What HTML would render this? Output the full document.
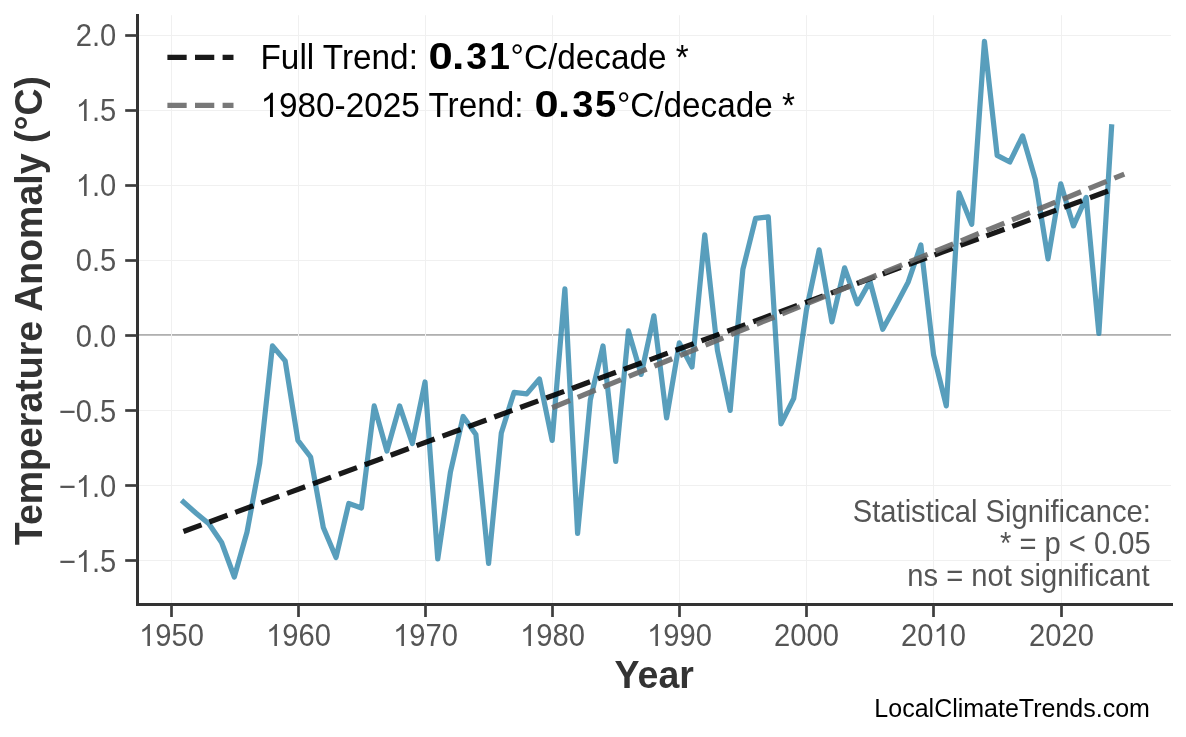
<!DOCTYPE html>
<html><head><meta charset="utf-8"><style>
html,body{margin:0;padding:0;background:#fff;}
svg{display:block;}
text{font-family:"Liberation Sans",sans-serif;}
svg{will-change:transform;}
</style></head><body>
<svg width="1186" height="737" viewBox="0 0 1186 737">
<rect width="1186" height="737" fill="#fff"/>
<g stroke="#f0f0f0" stroke-width="1"><line x1="137.5" y1="560.50" x2="1171.0" y2="560.50"/><line x1="137.5" y1="485.50" x2="1171.0" y2="485.50"/><line x1="137.5" y1="410.50" x2="1171.0" y2="410.50"/><line x1="137.5" y1="335.50" x2="1171.0" y2="335.50"/><line x1="137.5" y1="260.50" x2="1171.0" y2="260.50"/><line x1="137.5" y1="185.50" x2="1171.0" y2="185.50"/><line x1="137.5" y1="110.50" x2="1171.0" y2="110.50"/><line x1="137.5" y1="35.50" x2="1171.0" y2="35.50"/></g>
<line x1="137.5" y1="334.8" x2="1171.0" y2="334.8" stroke="#b0b0b0" stroke-width="1.8"/>
<g stroke="#f0f0f0" stroke-width="1"><line x1="171.50" y1="15.2" x2="171.50" y2="604.5"/><line x1="298.50" y1="15.2" x2="298.50" y2="604.5"/><line x1="425.50" y1="15.2" x2="425.50" y2="604.5"/><line x1="552.50" y1="15.2" x2="552.50" y2="604.5"/><line x1="679.50" y1="15.2" x2="679.50" y2="604.5"/><line x1="806.50" y1="15.2" x2="806.50" y2="604.5"/><line x1="933.50" y1="15.2" x2="933.50" y2="604.5"/><line x1="1061.50" y1="15.2" x2="1061.50" y2="604.5"/></g>
<polyline points="183.46,501.99 196.18,513.24 208.89,523.75 221.61,542.50 234.32,577.02 247.03,532.00 259.75,462.97 272.46,345.92 285.18,360.93 297.89,440.46 310.60,456.97 323.32,527.50 336.03,557.51 348.75,503.49 361.46,507.99 374.17,405.95 386.89,450.97 399.60,405.95 412.32,443.46 425.03,381.94 437.74,559.01 450.46,471.97 463.17,416.45 475.89,434.46 488.60,563.51 501.31,432.96 514.03,392.44 526.74,393.94 539.46,378.94 552.17,440.46 564.88,288.90 577.60,533.50 590.31,399.95 603.03,345.92 615.74,461.47 628.45,330.92 641.17,374.44 653.88,315.91 666.60,417.95 679.31,342.92 692.02,366.93 704.74,234.88 717.45,350.43 730.17,410.45 742.88,269.39 755.59,218.37 768.31,216.87 781.02,423.96 793.74,398.45 806.45,309.91 819.16,249.89 831.88,321.91 844.59,267.89 857.31,303.91 870.02,281.40 882.73,329.27 895.45,306.16 908.16,282.15 920.88,244.93 933.59,354.93 946.30,405.95 959.02,192.86 971.73,224.38 984.45,41.30 997.16,155.35 1009.87,161.95 1022.59,135.84 1035.30,179.36 1048.02,258.89 1060.73,183.86 1073.44,225.88 1086.16,197.36 1098.87,333.47 1111.59,126.84" fill="none" stroke="#2e86ab" stroke-opacity="0.8" stroke-width="5.2" stroke-linejoin="round" stroke-linecap="square"/>
<line x1="183.46" y1="531.50" x2="1111.59" y2="189.76" stroke="#000" stroke-opacity="0.9" stroke-width="5.2" stroke-dasharray="19.27 8.33"/>
<line x1="552.17" y1="407.75" x2="1124.30" y2="174.11" stroke="#696969" stroke-opacity="0.9" stroke-width="5.2" stroke-dasharray="19.27 8.33"/>
<g stroke="#333" stroke-width="3" fill="none">
<line x1="137.5" y1="14.0" x2="137.5" y2="606.0"/>
<line x1="136.0" y1="604.5" x2="1173.0" y2="604.5"/>
</g>
<g stroke="#3d3d3d" stroke-width="2.7"><line x1="171.50" y1="604.5" x2="171.50" y2="617.0"/><line x1="298.50" y1="604.5" x2="298.50" y2="617.0"/><line x1="425.50" y1="604.5" x2="425.50" y2="617.0"/><line x1="552.50" y1="604.5" x2="552.50" y2="617.0"/><line x1="679.50" y1="604.5" x2="679.50" y2="617.0"/><line x1="806.50" y1="604.5" x2="806.50" y2="617.0"/><line x1="933.50" y1="604.5" x2="933.50" y2="617.0"/><line x1="1061.50" y1="604.5" x2="1061.50" y2="617.0"/><line x1="125.2" y1="560.50" x2="137.5" y2="560.50"/><line x1="125.2" y1="485.50" x2="137.5" y2="485.50"/><line x1="125.2" y1="410.50" x2="137.5" y2="410.50"/><line x1="125.2" y1="335.50" x2="137.5" y2="335.50"/><line x1="125.2" y1="260.50" x2="137.5" y2="260.50"/><line x1="125.2" y1="185.50" x2="137.5" y2="185.50"/><line x1="125.2" y1="110.50" x2="137.5" y2="110.50"/><line x1="125.2" y1="35.50" x2="137.5" y2="35.50"/></g>
<g transform="translate(171.50,645.80) scale(1.0000,1.0700)" fill="#555"><text font-size="29.17" text-anchor="middle"> 950</text><path transform="translate(-32.42,0.187) scale(0.01424,-0.01424)" d="M763 0H583V1125Q518 1064 412 1003Q307 943 223 912V1083Q374 1152 487 1252Q600 1351 647 1444H763Z"/></g><g transform="translate(298.50,645.80) scale(1.0000,1.0700)" fill="#555"><text font-size="29.17" text-anchor="middle"> 960</text><path transform="translate(-32.42,0.187) scale(0.01424,-0.01424)" d="M763 0H583V1125Q518 1064 412 1003Q307 943 223 912V1083Q374 1152 487 1252Q600 1351 647 1444H763Z"/></g><g transform="translate(425.50,645.80) scale(1.0000,1.0700)" fill="#555"><text font-size="29.17" text-anchor="middle"> 970</text><path transform="translate(-32.42,0.187) scale(0.01424,-0.01424)" d="M763 0H583V1125Q518 1064 412 1003Q307 943 223 912V1083Q374 1152 487 1252Q600 1351 647 1444H763Z"/></g><g transform="translate(552.50,645.80) scale(1.0000,1.0700)" fill="#555"><text font-size="29.17" text-anchor="middle"> 980</text><path transform="translate(-32.42,0.187) scale(0.01424,-0.01424)" d="M763 0H583V1125Q518 1064 412 1003Q307 943 223 912V1083Q374 1152 487 1252Q600 1351 647 1444H763Z"/></g><g transform="translate(679.50,645.80) scale(1.0000,1.0700)" fill="#555"><text font-size="29.17" text-anchor="middle"> 990</text><path transform="translate(-32.42,0.187) scale(0.01424,-0.01424)" d="M763 0H583V1125Q518 1064 412 1003Q307 943 223 912V1083Q374 1152 487 1252Q600 1351 647 1444H763Z"/></g><text transform="translate(806.50,645.80) scale(1.0000,1.0700)" font-size="29.17" fill="#555" text-anchor="middle">2000</text><g transform="translate(933.50,645.80) scale(1.0000,1.0700)" fill="#555"><text font-size="29.17" text-anchor="middle">20 0</text><path transform="translate(-0.02,0.187) scale(0.01424,-0.01424)" d="M763 0H583V1125Q518 1064 412 1003Q307 943 223 912V1083Q374 1152 487 1252Q600 1351 647 1444H763Z"/></g><text transform="translate(1061.50,645.80) scale(1.0000,1.0700)" font-size="29.17" fill="#555" text-anchor="middle">2020</text>
<g transform="translate(116.30,572.20) scale(1.0000,1.0700)" fill="#555"><text font-size="29.17" text-anchor="end">− .5</text><path transform="translate(-40.54,-0.187) scale(0.01424,-0.01424)" d="M763 0H583V1125Q518 1064 412 1003Q307 943 223 912V1083Q374 1152 487 1252Q600 1351 647 1444H763Z"/></g><g transform="translate(116.30,497.20) scale(1.0000,1.0700)" fill="#555"><text font-size="29.17" text-anchor="end">− .0</text><path transform="translate(-40.54,-0.187) scale(0.01424,-0.01424)" d="M763 0H583V1125Q518 1064 412 1003Q307 943 223 912V1083Q374 1152 487 1252Q600 1351 647 1444H763Z"/></g><text transform="translate(116.30,422.20) scale(1.0000,1.0700)" font-size="29.17" fill="#555" text-anchor="end">−0.5</text><text transform="translate(116.30,347.20) scale(1.0000,1.0700)" font-size="29.17" fill="#555" text-anchor="end">0.0</text><text transform="translate(116.30,271.40) scale(1.0000,1.0700)" font-size="29.17" fill="#555" text-anchor="end">0.5</text><g transform="translate(116.30,196.40) scale(1.0000,1.0700)" fill="#555"><text font-size="29.17" text-anchor="end"> .0</text><path transform="translate(-40.53,-0.374) scale(0.01424,-0.01424)" d="M763 0H583V1125Q518 1064 412 1003Q307 943 223 912V1083Q374 1152 487 1252Q600 1351 647 1444H763Z"/></g><g transform="translate(116.30,121.40) scale(1.0000,1.0700)" fill="#555"><text font-size="29.17" text-anchor="end"> .5</text><path transform="translate(-40.53,-0.374) scale(0.01424,-0.01424)" d="M763 0H583V1125Q518 1064 412 1003Q307 943 223 912V1083Q374 1152 487 1252Q600 1351 647 1444H763Z"/></g><text transform="translate(116.30,46.40) scale(1.0000,1.0700)" font-size="29.17" fill="#555" text-anchor="end">2.0</text>
<text transform="translate(654.20,687.80) scale(1.0000,1.0350)" font-size="37.5" fill="#333" text-anchor="middle" font-weight="bold">Year</text>
<text transform="translate(41.80,310.60) rotate(-90) scale(1.0000,1.0350)" font-size="37.5" fill="#333" text-anchor="middle" font-weight="bold">Temperature Anomaly (°C)</text>
<g stroke-width="5.2" stroke-dasharray="19.27 8.33">
<line x1="167.4" y1="57.45" x2="233.5" y2="57.45" stroke="#000" stroke-opacity="0.9"/>
<line x1="167.4" y1="105.45" x2="233.5" y2="105.45" stroke="#696969" stroke-opacity="0.9"/>
</g>
<text transform="translate(260.50,68.80) scale(1.0000,1.0350)" font-size="33.33" fill="#000">Full Trend:</text><text transform="translate(428.38,69.4) scale(1.2024,1)" font-size="36.2" font-weight="bold" fill="#000">0</text><text transform="translate(451.97,69.4) scale(1.2333,1)" font-size="36.2" font-weight="bold" fill="#000">.</text><text transform="translate(466.34,69.4) scale(1.0337,1)" font-size="36.2" font-weight="bold" fill="#000">3</text><text transform="translate(489.36,69.4) scale(1.0270,1)" font-size="36.2" font-weight="bold" fill="#000">1</text><text transform="translate(510.60,68.80) scale(1.0000,1.0350)" font-size="33.33" fill="#000">°C/decade *</text><g transform="translate(260.50,116.70) scale(1.0000,1.0350)" fill="#000"><text font-size="33.33"> 980-2025 Trend:</text><path transform="translate(0.00,0.290) scale(0.01627,-0.01627)" d="M763 0H583V1125Q518 1064 412 1003Q307 943 223 912V1083Q374 1152 487 1252Q600 1351 647 1444H763Z"/></g><text transform="translate(534.59,117.4) scale(1.1965,1)" font-size="36.2" font-weight="bold" fill="#000">0</text><text transform="translate(558.12,117.4) scale(1.2137,1)" font-size="36.2" font-weight="bold" fill="#000">.</text><text transform="translate(572.13,117.4) scale(1.0504,1)" font-size="36.2" font-weight="bold" fill="#000">3</text><text transform="translate(594.93,117.4) scale(1.0549,1)" font-size="36.2" font-weight="bold" fill="#000">5</text><text transform="translate(616.90,116.70) scale(1.0000,1.0350)" font-size="33.33" fill="#000">°C/decade *</text>
<text transform="translate(1150.90,521.60) scale(1.0000,1.0700)" font-size="29.17" fill="#555" text-anchor="end">Statistical Significance:</text><text transform="translate(1150.70,553.60) scale(1.0000,1.0700)" font-size="29.17" fill="#555" text-anchor="end">* = p &lt; 0.05</text><text transform="translate(1149.50,585.80) scale(1.0000,1.0700)" font-size="29.17" fill="#555" text-anchor="end">ns = not significant</text>
<text transform="translate(1149.90,716.60) scale(1.0000,1.0350)" font-size="25" fill="#000" text-anchor="end">LocalClimateTrends.com</text>
</svg>
</body></html>
